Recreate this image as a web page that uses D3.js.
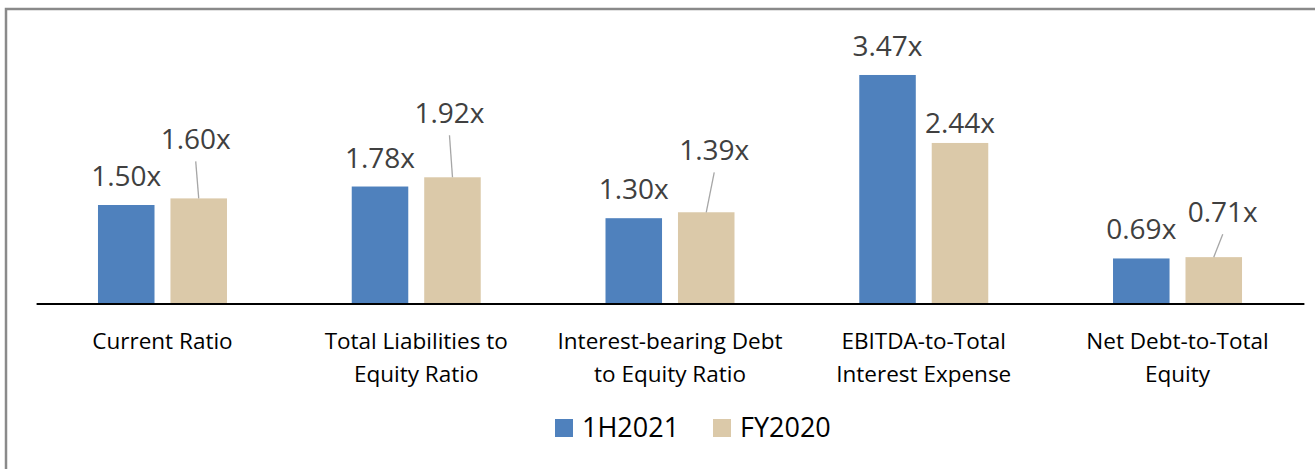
<!DOCTYPE html>
<html>
<head>
<meta charset="utf-8">
<script src="https://cdn.jsdelivr.net/npm/d3@7"></script>
<style>
  body { margin: 0; background: #fff; }
  svg { display: block; font-family: "Open Sans", "Noto Sans", sans-serif; }
</style>
</head>
<body>
<div id="chart"></div>
<script>
// chart data
var categories = [
  "Current Ratio",
  "Total Liabilities to Equity Ratio",
  "Interest-bearing Debt to Equity Ratio",
  "EBITDA-to-Total Interest Expense",
  "Net Debt-to-Total Equity"
];
var categoryLines = [
  ["Current Ratio"],
  ["Total Liabilities to", "Equity Ratio"],
  ["Interest-bearing Debt", "to Equity Ratio"],
  ["EBITDA-to-Total", "Interest Expense"],
  ["Net Debt-to-Total", "Equity"]
];
var seriesNames = ["1H2021", "FY2020"];
var values1H2021 = [1.50, 1.78, 1.30, 3.47, 0.69];
var valuesFY2020 = [1.60, 1.92, 1.39, 2.44, 0.71];

var colors = { "1H2021": "#4f81bd", "FY2020": "#dbc9a9" };

// FY2020 labels were dragged off the bars in the original (dx, dy from bar top)
var fyLabelMoves = [[-3, -49, true], [-3, -54, true], [8, -52, true], [0, -10, false], [9, -35, true]];

var width = 1315, height = 469;
var baseY = 304;

var svg = d3.select("#chart").append("svg")
    .attr("width", width)
    .attr("height", height);

// outer frame (runs off right / bottom)
svg.append("rect")
    .attr("x", 6).attr("y", 9)
    .attr("width", 1330).attr("height", 480)
    .style("fill", "none")
    .style("stroke", "#8a8a8a")
    .style("stroke-width", 2.5);

var x0 = d3.scaleBand()
    .domain(categories)
    .range([35.6, 1304.4])
    .paddingInner(0)
    .paddingOuter(0);

var x1 = d3.scaleBand()
    .domain(seriesNames)
    .range([(x0.bandwidth() - 129) / 2, (x0.bandwidth() + 129) / 2])
    .paddingInner(0.22);

var y = d3.scaleLinear()
    .domain([0, 3.5])
    .range([baseY, baseY - 66 * 3.5]);

var rows = categories.map(function(c, i) {
  return [
    { cat: c, i: i, s: "1H2021", v: values1H2021[i] },
    { cat: c, i: i, s: "FY2020", v: valuesFY2020[i] }
  ];
});

var groups = svg.selectAll("g.grp")
    .data(rows)
    .enter()
    .append("g")
    .attr("class", "grp")
    .attr("transform", function(d) { return "translate(" + x0(d[0].cat) + ",0)"; });

groups.selectAll("rect")
    .data(function(d) { return d; })
    .enter()
    .append("rect")
    .attr("x", function(d) { return x1(d.s); })
    .attr("y", function(d) { return y(d.v); })
    .attr("width", x1.bandwidth())
    .attr("height", function(d) { return baseY - y(d.v); })
    .style("fill", function(d) { return colors[d.s]; });

// leader lines for moved labels
groups.selectAll("line.leader")
    .data(function(d) { return d.filter(function(e) { return e.s === "FY2020" && fyLabelMoves[e.i][2]; }); })
    .enter()
    .append("line")
    .attr("class", "leader")
    .attr("x1", function(d) { return x1(d.s) + x1.bandwidth() / 2 + fyLabelMoves[d.i][0]; })
    .attr("y1", function(d) { return y(d.v) + fyLabelMoves[d.i][1] + 12; })
    .attr("x2", function(d) { return x1(d.s) + x1.bandwidth() / 2; })
    .attr("y2", function(d) { return y(d.v); })
    .style("stroke", "#a6a6a6")
    .style("stroke-width", 1.3);

groups.selectAll("text.val")
    .data(function(d) { return d; })
    .enter()
    .append("text")
    .attr("class", "val")
    .attr("x", function(d) {
      var dx = d.s === "FY2020" ? fyLabelMoves[d.i][0] : 0;
      return x1(d.s) + x1.bandwidth() / 2 + dx;
    })
    .attr("y", function(d) {
      var dy = d.s === "FY2020" ? fyLabelMoves[d.i][1] : -19;
      return y(d.v) + dy;
    })
    .attr("text-anchor", "middle")
    .style("font-size", "28px")
    .style("fill", "#404040")
    .text(function(d) { return d.v.toFixed(2) + "x"; });

// axis line
svg.append("line")
    .attr("x1", x0.range()[0] + 1).attr("x2", x0.range()[1])
    .attr("y1", baseY).attr("y2", baseY)
    .style("stroke", "#000")
    .style("stroke-width", 2);

// category labels
var catText = svg.selectAll("text.cat")
    .data(categories)
    .enter()
    .append("text")
    .attr("class", "cat")
    .attr("text-anchor", "middle")
    .attr("x", function(d) { return x0(d) + x0.bandwidth() / 2; })
    .attr("y", 349)
    .style("font-size", "22.5px")
    .style("fill", "#000");

catText.selectAll("tspan")
    .data(function(d, i) { return categoryLines[i]; })
    .enter()
    .append("tspan")
    .attr("x", function() { var p = this.parentNode; return p.getAttribute("x"); })
    .attr("dy", function(d, j) { return j === 0 ? 0 : 33; })
    .text(function(d) { return d; });

// legend
var legendX = [555, 713];
var legend = svg.selectAll("g.leg")
    .data(seriesNames)
    .enter()
    .append("g")
    .attr("class", "leg")
    .attr("transform", function(d, i) { return "translate(" + legendX[i] + ",419)"; });

legend.append("rect")
    .attr("width", 18).attr("height", 18)
    .style("fill", function(d) { return colors[d]; });

legend.append("text")
    .attr("x", 27)
    .attr("y", 18)
    .style("font-size", "27px")
    .style("fill", "#000")
    .text(function(d) { return d; });
</script>
</body>
</html>
